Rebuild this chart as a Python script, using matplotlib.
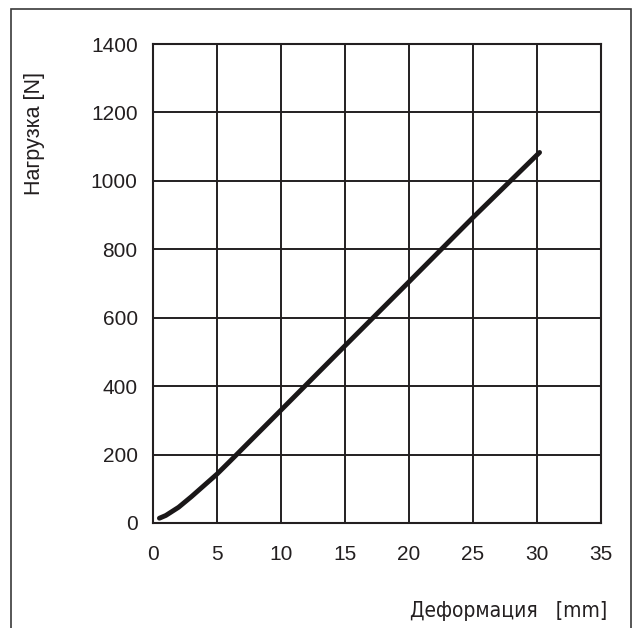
import matplotlib.pyplot as plt
from matplotlib.patches import Rectangle

# Gegevens
deformatie = [0.5, 1, 2, 3, 4, 5, 6, 8, 10, 15, 20, 25, 30.2]
belasting = [14, 22, 46, 77, 110, 143, 180, 255, 330, 518, 705, 893, 1083]

x_ticks = [0, 5, 10, 15, 20, 25, 30, 35]
y_ticks = [0, 200, 400, 600, 800, 1000, 1200, 1400]

kleur = "#231f20"

plt.rcParams["font.family"] = ["Liberation Sans", "DejaVu Sans"]

fig = plt.figure(figsize=(6.33, 6.28), dpi=100)
ax = fig.add_axes([153 / 633, 105 / 628, 448 / 633, 479 / 628])

ax.plot(deformatie, belasting, color="#1a1718", linewidth=3.5, solid_capstyle="round")

ax.set_xlim(0, 35)
ax.set_ylim(0, 1400)
ax.set_xticks(x_ticks)
ax.set_yticks(y_ticks)
ax.grid(True, color=kleur, linewidth=1.4)
ax.set_axisbelow(True)
for spine in ax.spines.values():
    spine.set_color(kleur)
    spine.set_linewidth(1.5)

ax.tick_params(axis="both", length=0, labelsize=15, colors=kleur)
ax.tick_params(axis="x", pad=16)
ax.tick_params(axis="y", pad=11)

ax.set_ylabel("Нагрузка [N]", fontsize=15.5, color=kleur)
ax.yaxis.set_label_coords(-0.241, 0.814)

ax.set_xlabel("Деформация   [mm]", fontsize=15, color=kleur, ha="right", va="center",
              family="DejaVu Sans", stretch="condensed")
ax.xaxis.set_label_coords(1.013, -0.184)

# Kader rond de figuur
rand = Rectangle((11 / 633, -0.1), 620 / 633, 1.1 - 9 / 628, transform=fig.transFigure,
                 fill=False, edgecolor="#3a3a3a", linewidth=1.2, clip_on=False)
fig.patches.append(rand)

fig.savefig("out.png", dpi=100)
